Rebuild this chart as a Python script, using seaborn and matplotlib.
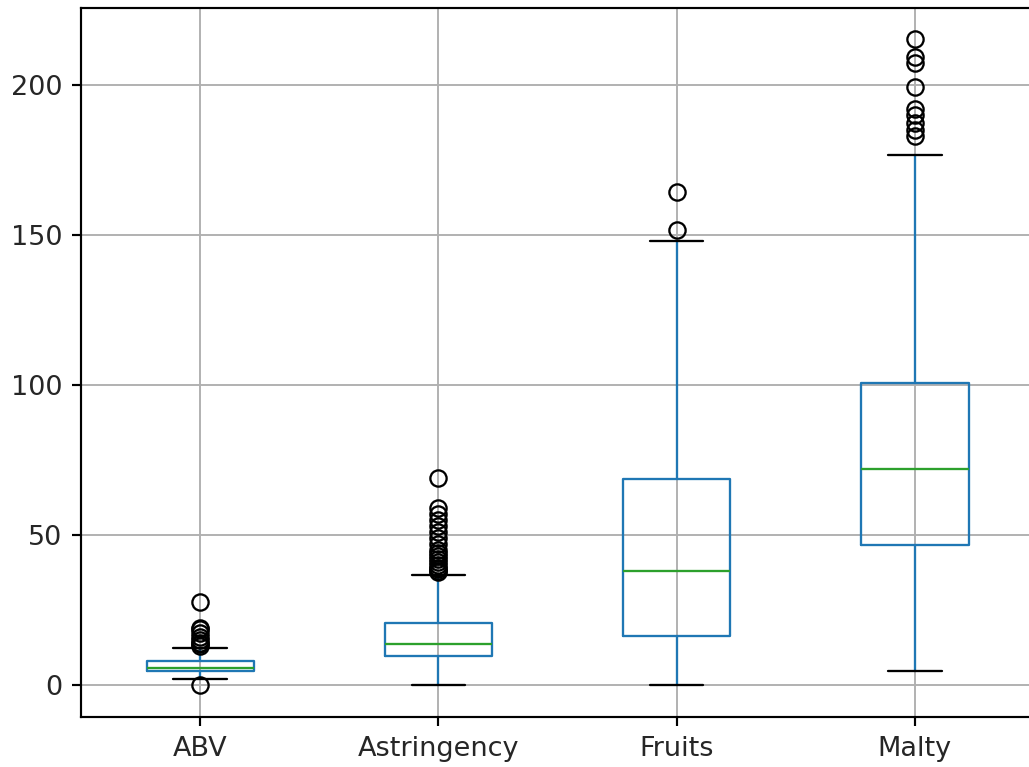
import seaborn as sns
import matplotlib.pyplot as plt

# Summary values
columns = ['ABV', 'Astringency', 'Fruits', 'Malty']
whisker_low = [2.0, 0.0, 0.0, 4.7]
q1 = [4.7, 9.7, 16.3, 46.7]
medians = [5.8, 13.7, 38.0, 72.0]
q3 = [8.0, 20.5, 68.7, 100.7]
whisker_high = [12.2, 36.6, 148.0, 176.7]
abv_fliers = [0.0, 13.0, 13.5, 14.0, 15.0, 16.0, 17.3, 18.5, 19.0, 27.8]
astringency_fliers = [37.5, 38.0, 38.5, 39.0, 40.0, 41.0, 42.0, 43.0, 44.0,
                      45.0, 47.0, 49.0, 51.0, 53.0, 55.0, 57.0, 59.0, 69.0]
fruits_fliers = [151.7, 164.5]
malty_fliers = [183.0, 185.0, 187.5, 190.0, 192.0, 199.5, 207.5, 209.5, 215.5]

sns.set_style('ticks')
s = 1.95  # scale factor for line widths, fonts and markers

fig, ax = plt.subplots(figsize=(10.29, 7.67), dpi=100)
# right spine sits just outside the image, as in the cropped original
fig.subplots_adjust(left=0.0787, right=1.0049, top=0.9896, bottom=0.0652)

fliers = [abv_fliers, astringency_fliers, fruits_fliers, malty_fliers]
stats = []
for i, name in enumerate(columns):
    stats.append({
        'label': name,
        'whislo': whisker_low[i],
        'q1': q1[i],
        'med': medians[i],
        'q3': q3[i],
        'whishi': whisker_high[i],
        'fliers': fliers[i],
    })

lw = 0.85 * s
ax.bxp(stats, positions=range(1, len(columns) + 1), widths=0.45,
       boxprops=dict(color='#1f77b4', linewidth=lw),
       whiskerprops=dict(color='#1f77b4', linewidth=lw),
       medianprops=dict(color='#2ca02c', linewidth=lw),
       capprops=dict(color='black', linewidth=lw),
       flierprops=dict(marker='o', markerfacecolor='none', markeredgecolor='black',
                       markersize=6 * s, markeredgewidth=lw))

ax.set_ylim(-10.7, 225.7)
ax.set_yticks([0, 50, 100, 150, 200])
ax.grid(True, color='#b0b0b0', linewidth=0.7 * s)
ax.set_axisbelow(True)
for spine in ax.spines.values():
    spine.set_linewidth(0.8 * s)
    spine.set_color('black')
ax.tick_params(labelsize=10 * s, length=3.5 * s, width=0.8 * s, pad=3.5 * s,
               colors='black')
for label in ax.get_xticklabels() + ax.get_yticklabels():
    label.set_color('#262626')

fig.savefig('out.png', dpi=100)
